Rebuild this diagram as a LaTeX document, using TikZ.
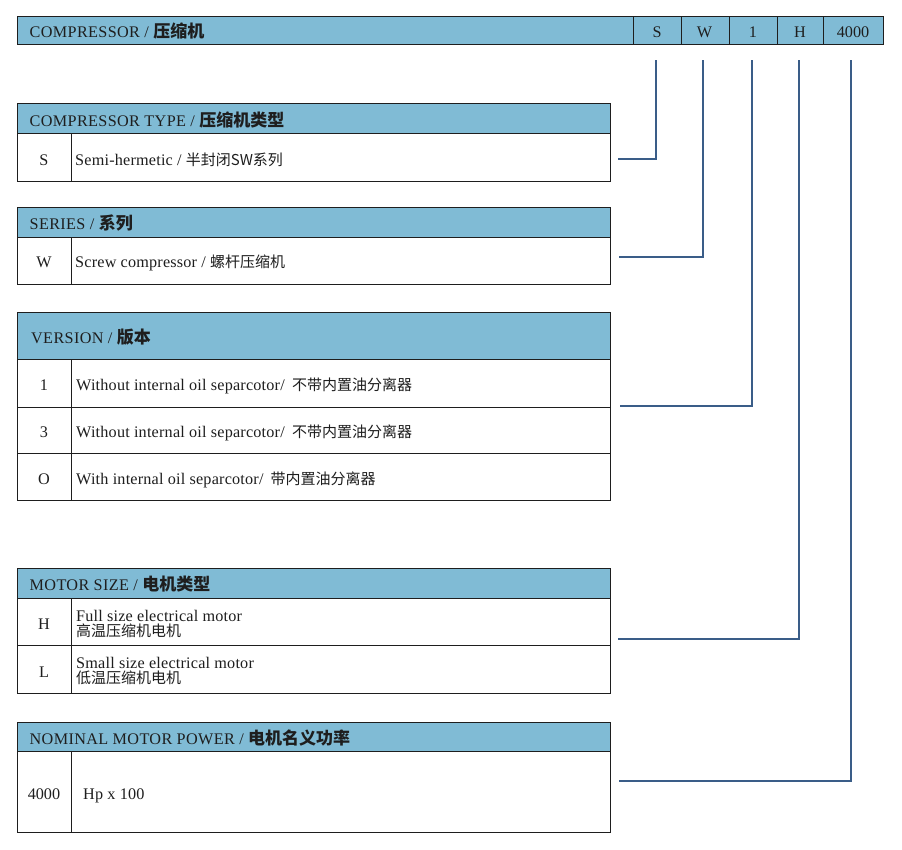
\documentclass[tikz,border=0pt]{standalone}
\usepackage{fontspec}
\setmainfont{Liberation Serif}
\newfontfamily\cjk{Noto Sans CJK SC}
\usetikzlibrary{calc}
\definecolor{hdrblue}{HTML}{80BBD5}
\definecolor{connblue}{HTML}{3A5D88}
\definecolor{ink}{HTML}{1E1E1E}
\newcommand\hz[1]{{\fontsize{17}{17}\selectfont\cjk\bfseries #1}}
\newcommand\rz[1]{{\fontsize{15}{15}\selectfont\cjk #1}}
\begin{document}
\begin{tikzpicture}[x=1pt,y=-1pt,
  txt/.style={inner sep=0pt, anchor=base west, font=\fontsize{16.2}{18}\selectfont\addfontfeature{LetterSpace=1.2}, text=ink},
  hdrtxt/.style={inner sep=0pt, anchor=base west, font=\fontsize{16.2}{18}\selectfont\addfontfeature{LetterSpace=2.2}, text=ink},
  ctr/.style={inner sep=0pt, anchor=base, font=\fontsize{16.2}{18}\selectfont, text=ink},
  hdrbox/.style={fill=hdrblue, draw=ink, line width=0.9pt},
  cellbox/.style={draw=ink, line width=0.9pt},
  conn/.style={draw=connblue, line width=2pt}]
\useasboundingbox[fill=white] (0,0) rectangle (902,849);

% ---- top bar
\draw[hdrbox] (17,16) rectangle (883,44);
\foreach \x in {633,681,729,777,823} \draw[cellbox] (\x,16) -- (\x,44);
\node[hdrtxt] (bartxt) at (29.5,37) {COMPRESSOR / \hz{压缩机}};
\node[ctr] (cS) at (657,37) {S};
\node[ctr] (cW) at (704.5,37) {W};
\node[ctr] (c1) at (753,37) {1};
\node[ctr] (cH) at (800,37) {H};
\node[ctr] (cP) at (853,37) {4000};

% ---- table 1
\draw[hdrbox] (17,103) rectangle (610,133);
\draw[cellbox] (17,133) rectangle (610,181);
\draw[cellbox] (71,133) -- (71,181);
\node[hdrtxt] (h1) at (29.5,126) {COMPRESSOR TYPE / \hz{压缩机类型}};
\node[ctr] (k1) at (44,165) {S};
\node[txt] (r1) at (75,165) {Semi-hermetic / \rz{半封闭SW系列}};

% ---- table 2
\draw[hdrbox] (17,207) rectangle (610,237);
\draw[cellbox] (17,237) rectangle (610,284);
\draw[cellbox] (71,237) -- (71,284);
\node[hdrtxt] (h2) at (29.5,229.5) {SERIES / \hz{系列}};
\node[ctr] (k2) at (44,267.5) {W};
\node[txt] (r2) at (75,267.5) {Screw compressor / \rz{螺杆压缩机}};

% ---- table 3
\draw[hdrbox] (17,312) rectangle (610,359);
\draw[cellbox] (17,359) rectangle (610,500);
\draw[cellbox] (17,407) -- (610,407);
\draw[cellbox] (17,453) -- (610,453);
\draw[cellbox] (71,359) -- (71,500);
\node[hdrtxt] (h3) at (31,343) {VERSION / \hz{版本}};
\node[ctr] (k3a) at (44,390) {1};
\node[txt] (r3a) at (76,390) {Without internal oil separcotor/ \hspace{3pt}\rz{不带内置油分离器}};
\node[ctr] (k3b) at (44,437) {3};
\node[txt] (r3b) at (76,437) {Without internal oil separcotor/ \hspace{3pt}\rz{不带内置油分离器}};
\node[ctr] (k3c) at (44,484) {O};
\node[txt] (r3c) at (76,484) {With internal oil separcotor/ \hspace{3pt}\rz{带内置油分离器}};

% ---- table 4
\draw[hdrbox] (17,568) rectangle (610,598);
\draw[cellbox] (17,598) rectangle (610,693);
\draw[cellbox] (17,645) -- (610,645);
\draw[cellbox] (71,598) -- (71,693);
\node[hdrtxt] (h4) at (29.5,590.5) {MOTOR SIZE / \hz{电机类型}};
\node[ctr] (k4a) at (44,629) {H};
\node[txt] (r4a) at (76,621) {Full size electrical motor};
\node[txt] (r4a2) at (76,636) {\rz{高温压缩机电机}};
\node[ctr] (k4b) at (44,677) {L};
\node[txt] (r4b) at (76,668) {Small size electrical motor};
\node[txt] (r4b2) at (76,683.5) {\rz{低温压缩机电机}};

% ---- table 5
\draw[hdrbox] (17,722) rectangle (610,751);
\draw[cellbox] (17,751) rectangle (610,832);
\draw[cellbox] (71,751) -- (71,832);
\node[hdrtxt] (h5) at (29.5,744) {NOMINAL MOTOR POWER / \hz{电机名义功率}};
\node[ctr] (k5) at (44,799) {4000};
\node[txt] (r5) at (83,799) {Hp x 100};

% ---- connectors
\coordinate (tS) at ($(cS.base)+(-1,23)$);
\coordinate (tW) at ($(cW.base)+(-1.5,23)$);
\coordinate (t1) at ($(c1.base)+(-1,23)$);
\coordinate (tH) at ($(cH.base)+(-1,23)$);
\coordinate (tP) at ($(cP.base)+(-2,23)$);
\coordinate (eS) at (618,159);
\coordinate (eW) at (619,257);
\coordinate (e1) at (620,406);
\coordinate (eH) at (618,639);
\coordinate (eP) at (619,781);
\draw[conn] (tS) |- (eS);
\draw[conn] (tW) |- (eW);
\draw[conn] (t1) |- (e1);
\draw[conn] (tH) |- (eH);
\draw[conn] (tP) |- (eP);
\end{tikzpicture}
\end{document}
